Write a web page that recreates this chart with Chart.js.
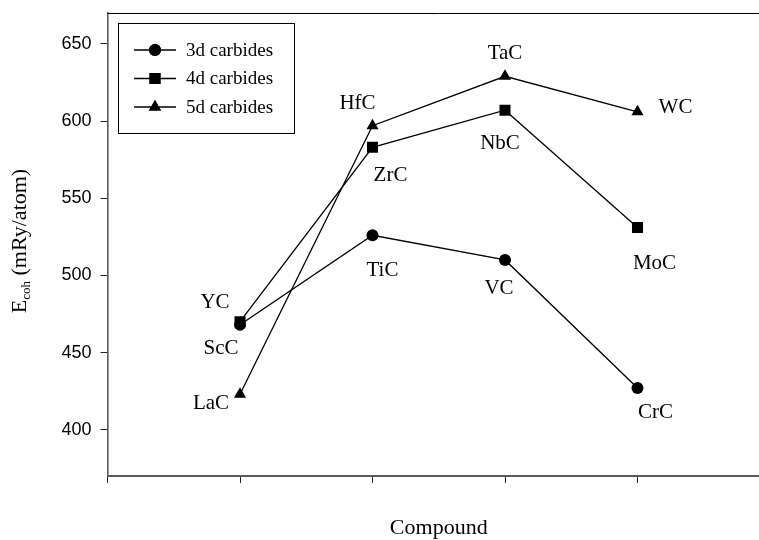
<!DOCTYPE html>
<html>
<head>
<meta charset="utf-8">
<script src="https://cdn.jsdelivr.net/npm/chart.js@4/dist/chart.umd.min.js"></script>
<style>
  html, body { margin: 0; padding: 0; background: #fff; overflow: hidden; }
  #wrap { width: 800px; height: 540px; }
</style>
</head>
<body>
<div id="wrap"><canvas id="grafico" width="800" height="540"></canvas></div>
<script>
// Dados do gráfico
const posicoes = [1, 2, 3, 4];
const nomes3d = ["ScC", "TiC", "VC", "CrC"];
const nomes4d = ["YC", "ZrC", "NbC", "MoC"];
const nomes5d = ["LaC", "HfC", "TaC", "WC"];
const ecoh3d = [468, 526, 510, 427];
const ecoh4d = [470, 583, 607, 531];
const ecoh5d = [423, 597, 629, 606];
const rotulosSerie = ["3d carbides", "4d carbides", "5d carbides"];
const ticksY = [400, 450, 500, 550, 600, 650];

// Deslocamento (px) de cada rótulo em relação ao seu ponto
const desloc3d = [[-19, 24], [10, 35], [-6, 29], [18, 24]];
const desloc4d = [[-25, -19], [18, 28], [-5, 33], [17, 36]];
const desloc5d = [[-29, 9], [-15, -22], [0, -23], [38, -4]];

const serif = "'Liberation Serif', 'Times New Roman', serif";

function pontos(ys) {
  return posicoes.map((x, i) => ({ x: x, y: ys[i] }));
}

// Plugin: moldura, rótulos dos pontos, legenda e títulos dos eixos
const desenhoExtra = {
  id: "desenhoExtra",
  afterDatasetsDraw(chart) {
    const ctx = chart.ctx;
    const area = chart.chartArea;
    const sx = chart.scales.x;
    const sy = chart.scales.y;

    ctx.save();
    // linha superior e direita da moldura
    ctx.strokeStyle = "#000";
    ctx.lineWidth = 1;
    ctx.beginPath();
    ctx.moveTo(area.left, area.top + 0.5);
    ctx.lineTo(area.right, area.top + 0.5);
    ctx.lineTo(area.right, area.bottom);
    ctx.stroke();

    // rótulos dos compostos
    ctx.fillStyle = "#000";
    ctx.font = "21px " + serif;
    ctx.textAlign = "center";
    ctx.textBaseline = "middle";
    const grupos = [
      [nomes3d, ecoh3d, desloc3d],
      [nomes4d, ecoh4d, desloc4d],
      [nomes5d, ecoh5d, desloc5d]
    ];
    grupos.forEach(([nomes, vals, desl]) => {
      nomes.forEach((n, i) => {
        const px = sx.getPixelForValue(posicoes[i]);
        const py = sy.getPixelForValue(vals[i]);
        ctx.fillText(n, px + desl[i][0], py + desl[i][1]);
      });
    });

    // legenda
    ctx.strokeStyle = "#000";
    ctx.lineWidth = 1;
    ctx.strokeRect(118.5, 23.5, 176, 110);
    const linhasY = [50, 78.5, 107];
    ctx.font = "19px " + serif;
    ctx.textAlign = "left";
    chart.data.datasets.forEach((ds, i) => {
      const y = linhasY[i];
      ctx.lineWidth = 1.3;
      ctx.beginPath();
      ctx.moveTo(134, y);
      ctx.lineTo(176, y);
      ctx.stroke();
      Chart.helpers.drawPoint(ctx, {
        pointStyle: ds.pointStyle,
        radius: ds.pointRadius,
        borderWidth: 0
      }, 155, y);
      ctx.fill();
      ctx.fillText(rotulosSerie[i], 186, y + 1);
    });

    // título do eixo X
    ctx.font = "22px " + serif;
    ctx.textAlign = "center";
    ctx.fillText("Compound", (area.left + area.right) / 2, 528);

    // título do eixo Y com subscrito
    ctx.translate(26, 241);
    ctx.rotate(-Math.PI / 2);
    ctx.textAlign = "left";
    ctx.textBaseline = "alphabetic";
    const fGrande = "22px " + serif;
    const fPeq = "13px " + serif;
    ctx.font = fGrande;
    const wE = ctx.measureText("E").width;
    const wResto = ctx.measureText(" (mRy/atom)").width;
    ctx.font = fPeq;
    const wSub = ctx.measureText("coh").width;
    let x0 = -(wE + wSub + wResto) / 2;
    ctx.font = fGrande;
    ctx.fillText("E", x0, 0);
    ctx.font = fPeq;
    ctx.fillText("coh", x0 + wE, 4);
    ctx.font = fGrande;
    ctx.fillText(" (mRy/atom)", x0 + wE + wSub, 0);
    ctx.restore();
  }
};

function serie(label, ys, estilo, raio) {
  return {
    label: label,
    data: pontos(ys),
    borderColor: "#000",
    backgroundColor: "#000",
    borderWidth: 1.3,
    pointStyle: estilo,
    pointRadius: raio,
    pointBorderWidth: 0,
    pointBackgroundColor: "#000",
    fill: false,
    tension: 0
  };
}

const chart = new Chart(document.getElementById("grafico").getContext("2d"), {
  type: "line",
  data: {
    datasets: [
      serie(rotulosSerie[0], ecoh3d, "circle", 6),
      serie(rotulosSerie[1], ecoh4d, "rect", 7.8),
      serie(rotulosSerie[2], ecoh5d, "triangle", 7)
    ]
  },
  options: {
    responsive: false,
    animation: false,
    layout: { padding: { top: 13, right: 30, left: 0, bottom: 0 } },
    plugins: {
      legend: { display: false },
      tooltip: { enabled: false }
    },
    scales: {
      x: {
        type: "linear",
        min: 0,
        max: 5,
        afterBuildTicks: (s) => { s.ticks = posicoes.concat([0, 5]).sort().map(v => ({ value: v })); },
        afterFit: (s) => { s.height = 64; s.paddingLeft = 0; s.paddingRight = 0; },
        ticks: { display: false },
        grid: { drawOnChartArea: false, drawTicks: true, tickLength: 7, tickColor: "#222", tickWidth: 1 },
        border: { color: "#5a5a5a", width: 2 }
      },
      y: {
        min: 370,
        max: 670,
        afterBuildTicks: (s) => { s.ticks = ticksY.map(v => ({ value: v })); },
        afterFit: (s) => { s.width = 107.5; s.paddingTop = 0; s.paddingBottom = 0; },
        ticks: {
          color: "#000",
          padding: 9,
          font: { family: "'Liberation Sans', Arial, sans-serif", size: 18 }
        },
        grid: { drawOnChartArea: false, drawTicks: true, tickLength: 7, tickColor: "#222", tickWidth: 1 },
        border: { color: "#5a5a5a", width: 1.6 }
      }
    }
  },
  plugins: [desenhoExtra]
});
</script>
</body>
</html>
